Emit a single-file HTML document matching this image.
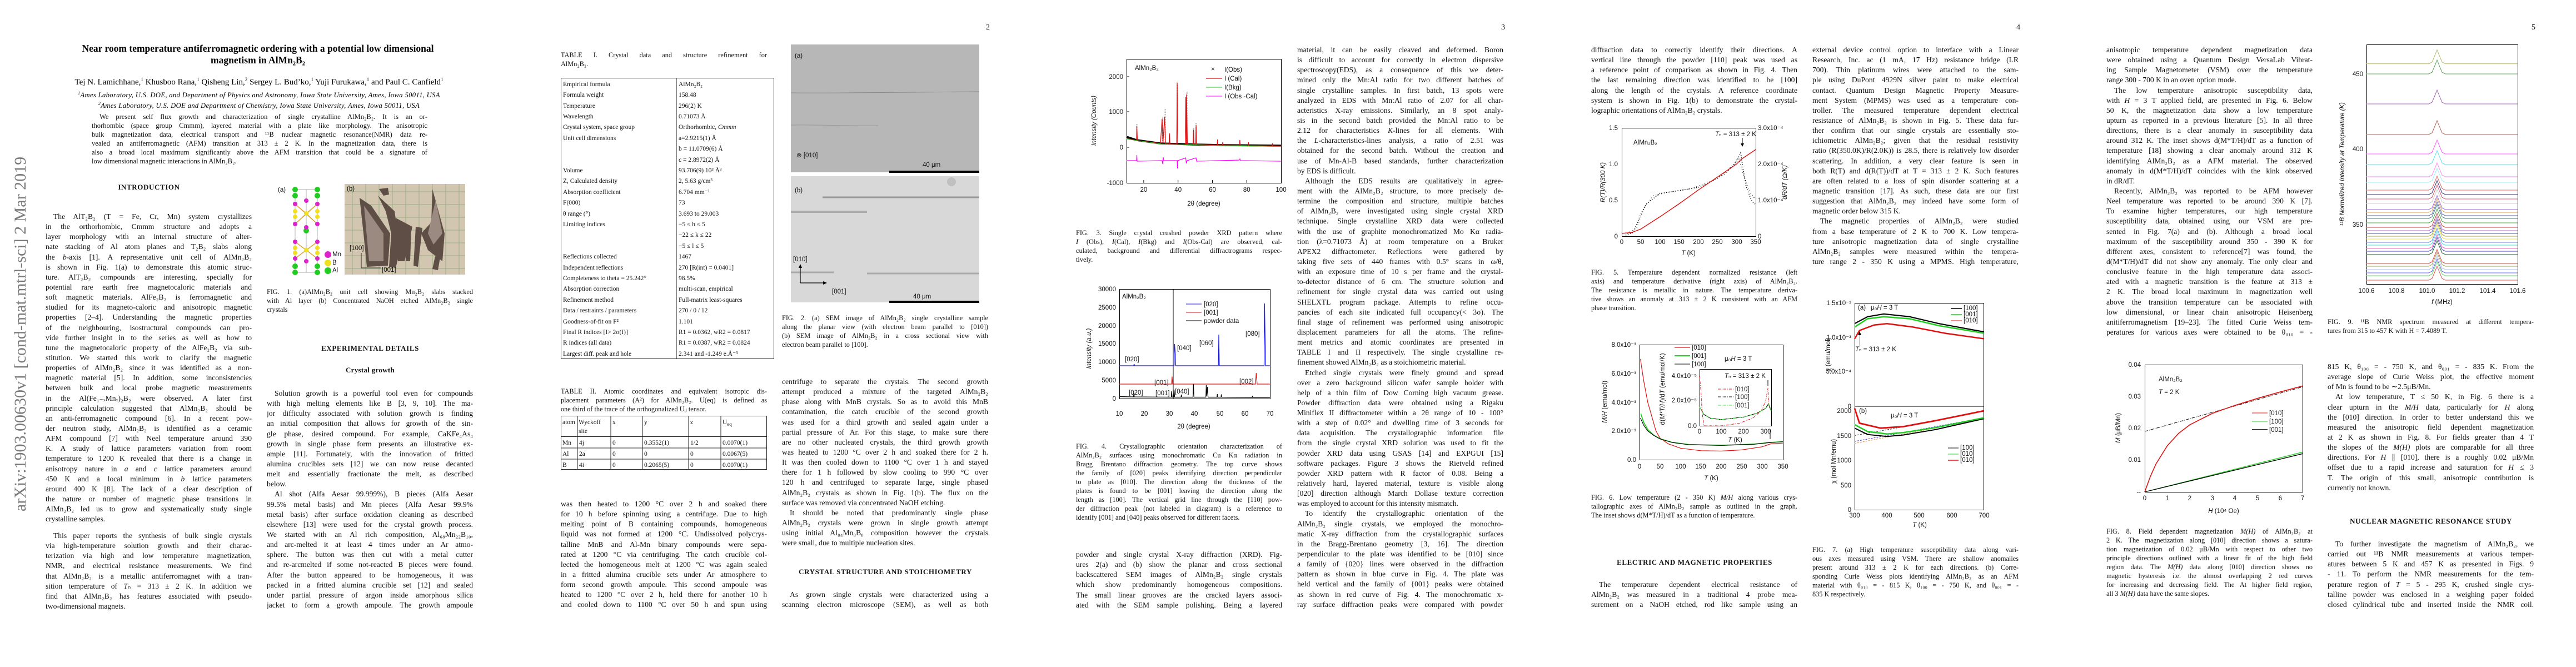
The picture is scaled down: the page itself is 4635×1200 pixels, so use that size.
<!DOCTYPE html>
<html><head><meta charset="utf-8">
<style>
body{margin:0;width:4635px;height:1200px;background:#fff;position:relative;overflow:hidden}
.t{position:absolute;width:371px;font-family:"Liberation Serif",serif;font-size:13.6px;line-height:18.15px;color:#111}
.t div{height:18.15px;overflow:hidden;text-align:justify;text-align-last:justify}
.t div.e{text-align-last:left}
.t div.i{text-indent:14px}
.c{position:absolute;width:371px;font-family:"Liberation Serif",serif;font-size:12.3px;line-height:16px;color:#111}
.c div{height:16px;overflow:hidden;text-align:justify;text-align-last:justify}
.c div.e{text-align-last:left}
.h{position:absolute;font-family:"Liberation Serif",serif;font-weight:bold;font-size:13px;letter-spacing:0.6px;color:#111;transform:translateX(-50%);white-space:nowrap}
.pn{position:absolute;font-family:"Liberation Serif",serif;font-size:14px;top:42px}
svg{position:absolute;left:0;top:0}
svg text{font-family:"Liberation Sans",sans-serif;font-size:11.5px;fill:#111}
svg g.serif text{font-family:"Liberation Serif",serif}
</style></head><body>

<svg width="4635" height="1200" viewBox="0 0 4635 1200">
<!-- FIG 1 -->
<text x="500" y="345" font-size="11">(a)</text>
<g stroke="#bbb" stroke-width="1.2" fill="none">
<rect x="531" y="341" width="40" height="149"/><line x1="551" y1="341" x2="551" y2="490"/>
</g>
<g stroke="#e0a020" stroke-width="1.2">
<line x1="531" y1="367" x2="551" y2="384"/><line x1="571" y1="367" x2="551" y2="384"/><line x1="531" y1="403" x2="551" y2="384"/><line x1="571" y1="403" x2="551" y2="384"/><line x1="531" y1="367" x2="571" y2="403"/><line x1="571" y1="367" x2="531" y2="403"/>
<line x1="531" y1="435" x2="551" y2="450"/><line x1="571" y1="435" x2="551" y2="450"/><line x1="531" y1="465" x2="551" y2="450"/><line x1="571" y1="465" x2="551" y2="450"/><line x1="531" y1="435" x2="571" y2="465"/><line x1="571" y1="435" x2="531" y2="465"/>
</g>
<g fill="#22cc22"><circle cx="531" cy="341" r="5"/><circle cx="571" cy="341" r="5"/><circle cx="531" cy="352" r="5"/><circle cx="571" cy="352" r="5"/><circle cx="551" cy="415" r="5"/><circle cx="531" cy="479" r="5"/><circle cx="571" cy="479" r="5"/><circle cx="531" cy="490" r="5"/><circle cx="571" cy="490" r="5"/><circle cx="590" cy="487" r="6"/></g>
<g fill="#f0e020"><circle cx="531" cy="380" r="4"/><circle cx="571" cy="380" r="4"/><circle cx="531" cy="390" r="4"/><circle cx="571" cy="390" r="4"/><circle cx="551" cy="384" r="4"/><circle cx="531" cy="446" r="4"/><circle cx="571" cy="446" r="4"/><circle cx="531" cy="455" r="4"/><circle cx="571" cy="455" r="4"/><circle cx="551" cy="450" r="4"/><circle cx="590" cy="473" r="6"/></g>
<g fill="#dd22cc"><circle cx="551" cy="361" r="4"/><circle cx="531" cy="367" r="4"/><circle cx="571" cy="367" r="4"/><circle cx="531" cy="403" r="4"/><circle cx="571" cy="403" r="4"/><circle cx="551" cy="409" r="4"/><circle cx="531" cy="435" r="4"/><circle cx="571" cy="435" r="4"/><circle cx="531" cy="465" r="4"/><circle cx="571" cy="465" r="4"/><circle cx="551" cy="470" r="4"/><circle cx="590" cy="458" r="6"/></g>
<text x="598" y="461" font-size="6" fill="#c2c">Mn</text><text x="598" y="476" font-size="6" fill="#c2c">B</text><text x="598" y="490" font-size="6" fill="#c2c">Al</text>
<rect x="620" y="331" width="217" height="163" fill="#d2c6b0"/>
<g stroke="#8aa878" stroke-width="1" opacity="0.8">
<line x1="620" y1="345" x2="837" y2="345"/><line x1="620" y1="368" x2="837" y2="368"/><line x1="620" y1="391" x2="837" y2="391"/><line x1="620" y1="414" x2="837" y2="414"/><line x1="620" y1="437" x2="837" y2="437"/><line x1="620" y1="460" x2="837" y2="460"/><line x1="620" y1="483" x2="837" y2="483"/>
<line x1="634" y1="331" x2="634" y2="494"/><line x1="658" y1="331" x2="658" y2="494"/><line x1="682" y1="331" x2="682" y2="494"/><line x1="706" y1="331" x2="706" y2="494"/><line x1="730" y1="331" x2="730" y2="494"/><line x1="754" y1="331" x2="754" y2="494"/><line x1="778" y1="331" x2="778" y2="494"/><line x1="802" y1="331" x2="802" y2="494"/><line x1="826" y1="331" x2="826" y2="494"/>
</g>
<g fill="#5e4e46">
<polygon points="647,356 668,370 702,420 698,478 660,480 654,420"/>
<polygon points="682,340 698,338 700,350 690,352"/>
<polygon points="680,352 710,380 720,450 712,482 700,480 704,420 694,380"/>
<polygon points="712,392 742,408 728,470 716,470"/>
<polygon points="730,410 740,410 738,470 730,470"/>
<polygon points="748,408 760,410 752,480 744,478"/>
<polygon points="778,340 800,420 796,470 770,450 758,420 776,400"/>
<polygon points="783,461 792,463 788,486 778,484"/>
</g>
<g fill="#9a8a80"><polygon points="655,370 690,420 690,470 664,470"/><polygon points="784,360 796,420 780,440 770,420"/></g>
<text x="624" y="343" font-size="10">(b)</text>
<text x="629" y="450" font-size="9">[100]</text><text x="687" y="489" font-size="9">[001]</text>
<path d="M650,455 V482 H685" stroke="#222" fill="none" stroke-width="1"/>

<!-- FIG 2 -->
<rect x="1423" y="80" width="339" height="230" fill="#b7b7b7"/>
<path d="M1423,167 C1500,168 1600,166 1762,165" stroke="#888" stroke-width="1" fill="none"/>
<path d="M1423,225 C1470,224 1530,227 1580,226" stroke="#999" stroke-width="1" fill="none"/>
<rect x="1600" y="307" width="162" height="4" fill="#000"/>
<text x="1430" y="104" font-size="18">(a)</text>
<text x="1433" y="283" font-size="15">⊗ [010]</text>
<text x="1660" y="300" font-size="17">40 μm</text>
<rect x="1423" y="317" width="339" height="227" fill="#d8d8d8"/>
<path d="M1480,355 H1762" stroke="#999" stroke-width="3" fill="none"/>
<path d="M1423,381 H1560" stroke="#aaa" stroke-width="4" fill="none"/>
<path d="M1423,490 H1500 M1560,492 H1762" stroke="#aaa" stroke-width="3" fill="none"/>
<circle cx="1712" cy="327" r="8" fill="#c0c0c0"/>
<rect x="1600" y="541" width="162" height="4" fill="#000"/>
<text x="1430" y="346" font-size="18">(b)</text>
<text x="1427" y="470" font-size="15">[010]</text>
<path d="M1440,509 V480 M1440,509 H1483" stroke="#000" stroke-width="1.2" fill="none"/>
<path d="M1437,482 L1440,475 L1443,482 Z M1481,506 L1488,509 L1481,512 Z" fill="#000"/>
<text x="1497" y="528" font-size="15">[001]</text>
<text x="1643" y="537" font-size="17">40 μm</text>

<!-- TABLE I -->
<rect x="1009.5" y="140.5" width="383" height="505" fill="none" stroke="#222" stroke-width="1"/>
<line x1="1217" y1="140" x2="1217" y2="646" stroke="#222"/>
<g class="serif" style="font-size:13.3px">
<text x="1013" y="155" font-size="13.3">Empirical formula</text><text x="1221" y="155" font-size="13.3">AlMn₂B₂</text>
<text x="1013" y="174" font-size="13.3">Formula weight</text><text x="1221" y="174" font-size="13.3">158.48</text>
<text x="1013" y="194" font-size="13.3">Temperature</text><text x="1221" y="194" font-size="13.3">296(2) K</text>
<text x="1013" y="213" font-size="13.3">Wavelength</text><text x="1221" y="213" font-size="13.3">0.71073 Å</text>
<text x="1013" y="232" font-size="13.3">Crystal system, space group</text><text x="1221" y="232" font-size="13.3">Orthorhombic, <tspan font-style="italic">Cmmm</tspan></text>
<text x="1013" y="252" font-size="13.3">Unit cell dimensions</text><text x="1221" y="252" font-size="13.3">a=2.9215(1) Å</text>
<text x="1221" y="271" font-size="13.3">b = 11.0709(6) Å</text>
<text x="1221" y="291" font-size="13.3">c = 2.8972(2) Å</text>
<text x="1013" y="310" font-size="13.3">Volume</text><text x="1221" y="310" font-size="13.3">93.706(9) 10³ Å³</text>
<text x="1013" y="329" font-size="13.3">Z, Calculated density</text><text x="1221" y="329" font-size="13.3">2, 5.63 g/cm³</text>
<text x="1013" y="349" font-size="13.3">Absorption coefficient</text><text x="1221" y="349" font-size="13.3">6.704 mm⁻¹</text>
<text x="1013" y="368" font-size="13.3">F(000)</text><text x="1221" y="368" font-size="13.3">73</text>
<text x="1013" y="388" font-size="13.3">θ range (°)</text><text x="1221" y="388" font-size="13.3">3.693 to 29.003</text>
<text x="1013" y="407" font-size="13.3">Limiting indices</text><text x="1221" y="407" font-size="13.3">−5 ≤ h ≤ 5</text>
<text x="1221" y="426" font-size="13.3">−22 ≤ k ≤ 22</text>
<text x="1221" y="446" font-size="13.3">−5 ≤ l ≤ 5</text>
<text x="1013" y="465" font-size="13.3">Reflections collected</text><text x="1221" y="465" font-size="13.3">1467</text>
<text x="1013" y="485" font-size="13.3">Independent reflections</text><text x="1221" y="485" font-size="13.3">270 [R(int) = 0.0401]</text>
<text x="1013" y="504" font-size="13.3">Completeness to theta = 25.242°</text><text x="1221" y="504" font-size="13.3">98.5%</text>
<text x="1013" y="523" font-size="13.3">Absorption correction</text><text x="1221" y="523" font-size="13.3">multi-scan, empirical</text>
<text x="1013" y="543" font-size="13.3">Refinement method</text><text x="1221" y="543" font-size="13.3">Full-matrix least-squares</text>
<text x="1013" y="562" font-size="13.3">Data / restraints / parameters</text><text x="1221" y="562" font-size="13.3">270 / 0 / 12</text>
<text x="1013" y="582" font-size="13.3">Goodness-of-fit on F²</text><text x="1221" y="582" font-size="13.3">1.101</text>
<text x="1013" y="601" font-size="13.3">Final R indices [I&gt; 2σ(I)]</text><text x="1221" y="601" font-size="13.3">R1 = 0.0362, wR2 = 0.0817</text>
<text x="1013" y="620" font-size="13.3">R indices (all data)</text><text x="1221" y="620" font-size="13.3">R1 = 0.0387, wR2 = 0.0824</text>
<text x="1013" y="640" font-size="13.3">Largest diff. peak and hole</text><text x="1221" y="640" font-size="13.3">2.341 and -1.249 e.Å⁻³</text>
</g>

<!-- TABLE II -->
<rect x="1009.5" y="748.5" width="370" height="96" fill="none" stroke="#222"/>
<g stroke="#222"><line x1="1039" y1="748" x2="1039" y2="845"/><line x1="1099" y1="748" x2="1099" y2="845"/><line x1="1156" y1="748" x2="1156" y2="845"/><line x1="1239" y1="748" x2="1239" y2="845"/><line x1="1297" y1="748" x2="1297" y2="845"/>
<line x1="1009" y1="785.5" x2="1380" y2="785.5"/><line x1="1009" y1="806" x2="1380" y2="806"/><line x1="1009" y1="826" x2="1380" y2="826"/></g>
<g class="serif">
<text x="1012" y="763" font-size="13">atom</text><text x="1041" y="763" font-size="13">Wyckoff</text><text x="1041" y="779" font-size="13">site</text><text x="1102" y="763" font-size="13">x</text><text x="1159" y="763" font-size="13">y</text><text x="1242" y="763" font-size="13">z</text><text x="1300" y="763" font-size="13">U<tspan font-size="9" dy="3">eq</tspan></text>
<text x="1012" y="800" font-size="13">Mn</text><text x="1042" y="800" font-size="13">4j</text><text x="1102" y="800" font-size="13">0</text><text x="1159" y="800" font-size="13">0.3552(1)</text><text x="1242" y="800" font-size="13">1/2</text><text x="1300" y="800" font-size="13">0.0070(1)</text>
<text x="1012" y="820" font-size="13">Al</text><text x="1042" y="820" font-size="13">2a</text><text x="1102" y="820" font-size="13">0</text><text x="1159" y="820" font-size="13">0</text><text x="1242" y="820" font-size="13">0</text><text x="1300" y="820" font-size="13">0.0067(5)</text>
<text x="1012" y="840" font-size="13">B</text><text x="1042" y="840" font-size="13">4i</text><text x="1102" y="840" font-size="13">0</text><text x="1159" y="840" font-size="13">0.2065(5)</text><text x="1242" y="840" font-size="13">0</text><text x="1300" y="840" font-size="13">0.0070(1)</text>
</g>

<!-- FIG 3 -->
<rect x="2027.5" y="106.5" width="278" height="223" fill="none" stroke="#000"/>
<g stroke="#000"><line x1="2027" y1="138" x2="2032" y2="138"/><line x1="2027" y1="201" x2="2032" y2="201"/><line x1="2027" y1="265" x2="2032" y2="265"/><line x1="2057.9" y1="329" x2="2057.9" y2="324"/><line x1="2119.7" y1="329" x2="2119.7" y2="324"/><line x1="2181.5" y1="329" x2="2181.5" y2="324"/><line x1="2243.3" y1="329" x2="2243.3" y2="324"/></g>
<g text-anchor="end"><text x="2021" y="142">2000</text><text x="2021" y="205">1000</text><text x="2021" y="269">0</text><text x="2021" y="333">-1000</text></g>
<g text-anchor="middle"><text x="2057.9" y="345">20</text><text x="2119.7" y="345">40</text><text x="2181.5" y="345">60</text><text x="2243.3" y="345">80</text><text x="2305" y="345">100</text>
<text x="2166" y="370" font-size="13">2θ (degree)</text>
<text transform="translate(1972,217) rotate(-90)" font-size="13" font-style="italic">Intensity (Counts)</text></g>
<path d="M2027,246 L2045,252 L2088,258 L2150,260 L2200,261 L2305,262" stroke="#000" stroke-width="3.5" fill="none"/>
<path d="M2045.5,223 V250 M2096.5,196 V255 M2118.1,147 V256 M2135.7,165 V258 M2091.9,210 V255 M2152.1,222 V259 M2147.5,230 V259" stroke="#999" stroke-width="2" stroke-dasharray="1.5,1.5"/>
<path d="M2027,249 L2045,253 L2045.5,227 L2046.5,253 L2088,258 L2091,214 L2092.5,258 L2095.5,210 L2097,258 L2103.5,258 L2104.2,240 L2105,259 L2117.3,259 L2118.1,150 L2119,260 L2132.8,260 L2133.6,175 L2134.6,260 L2135,170 L2136.4,260 L2146.8,260 L2147.5,233 L2148.2,260 L2151.5,260 L2152.1,226 L2152.8,260 L2190,261 L2190.7,251 L2191.4,261 L2199.5,261 L2200,256 L2200.5,261 L2230.3,261.5 L2230.9,252 L2231.5,261.5 L2245.8,262 L2246.3,256 L2246.8,262 L2289,262.5 L2289.6,258 L2290.2,262.5 L2305,263" stroke="#e01010" stroke-width="1.3" fill="none"/>
<path d="M2027,250 L2088,259 L2200,262 L2305,263.5" stroke="#20c020" stroke-width="1" fill="none"/>
<path d="M2027,289 L2045,289 L2045.5,279 L2046,290 L2091,289 L2092,295 L2093,283 L2094,289 L2118,289 L2118.5,303 L2119,289 L2133.5,284 L2134.5,294 L2136,289 L2152,284 L2153,290 L2230,288 L2231,286 L2232,289 L2305,290" stroke="#ff00ff" stroke-width="1.2" fill="none"/>
<text x="2042" y="126" font-size="11">AlMn₂B₂</text>
<text x="2179" y="128" fill="#999" font-size="9">×</text>
<line x1="2170" y1="141" x2="2199" y2="141" stroke="#e01010" stroke-width="1.3"/>
<line x1="2170" y1="157" x2="2199" y2="157" stroke="#20c020"/>
<line x1="2170" y1="173" x2="2199" y2="173" stroke="#ff00ff"/>
<g font-size="11"><text x="2203" y="129">I(Obs)</text><text x="2203" y="145">I (Cal)</text><text x="2203" y="161">I(Bkg)</text><text x="2203" y="177">I (Obs -Cal)</text></g>

<!-- FIG 4 -->
<rect x="2014.5" y="520.5" width="271" height="197" fill="none" stroke="#000"/>
<line x1="2111" y1="520" x2="2111" y2="717" stroke="#000"/>
<g text-anchor="end"><text x="2008" y="524">30000</text><text x="2008" y="557">25000</text><text x="2008" y="590">20000</text><text x="2008" y="622">15000</text><text x="2008" y="655">10000</text><text x="2008" y="688">5000</text><text x="2008" y="721">0</text></g>
<g text-anchor="middle"><text x="2014" y="748">10</text><text x="2059" y="748">20</text><text x="2104" y="748">30</text><text x="2149" y="748">40</text><text x="2195" y="748">50</text><text x="2240" y="748">60</text><text x="2285" y="748">70</text>
<text x="2148" y="771" font-size="13">2θ (degree)</text>
<text transform="translate(1963,627) rotate(-90)" font-size="13" font-style="italic">Intensity (a.u.)</text></g>
<path d="M2014,658 L2040,658 L2040.5,655 L2041.5,658 L2112.5,658 L2113.3,619 L2114.3,630 L2115.5,658 L2192.2,658 L2193,602 L2194,658 L2274.5,658 L2275.3,546 L2276.2,600 L2277,658 L2285,658" stroke="#1010e0" stroke-width="1.2" fill="none"/>
<path d="M2014,691 L2108,691 L2108.9,677.6 L2110,691 L2259,691 L2260.3,671 L2262,691 L2285,691" stroke="#e01010" stroke-width="1.2" fill="none"/>
<path d="M2014,713.5 L2039.5,714 L2040.2,707 L2041,714 L2107.5,714.5 L2108,704 L2109,714.5 L2112,714.5 L2112.5,701 L2113.5,714.5 L2125,714.5 L2125.6,710 L2126.3,714.5 L2146.5,714.5 L2147.3,691 L2148.2,714.5 L2169.8,714.5 L2170.4,693 L2171.4,712 L2172.5,696 L2173.6,714.5 L2189.8,714.5 L2190.3,709 L2190.8,714.5 L2197,714.5 L2197.5,709.5 L2198,714.5 L2253,715 L2253.6,712 L2254.2,715 L2285,715" stroke="#000" stroke-width="1.2" fill="none"/>
<text x="2019" y="537" font-size="11">AlMn₂B₂</text>
<line x1="2134" y1="547" x2="2162" y2="547" stroke="#1010e0"/><line x1="2134" y1="562" x2="2162" y2="562" stroke="#e01010"/><line x1="2134" y1="577" x2="2162" y2="577" stroke="#000"/>
<g font-size="10.5"><text x="2166" y="551">[020]</text><text x="2166" y="566">[001]</text><text x="2166" y="581">powder data</text>
<text x="2024" y="650">[020]</text><text x="2118" y="630">[040]</text><text x="2158" y="621">[060]</text><text x="2241" y="604">[080]</text><text x="2077" y="692">[001]</text><text x="2230" y="690">[002]</text><text x="2031" y="710">[020]</text><text x="2079" y="711">[001]</text><text x="2114" y="708">[040]</text></g>

<!-- FIG 5 -->
<rect x="2918.5" y="230.5" width="241" height="195" fill="none" stroke="#000"/>
<g text-anchor="end"><text x="2911" y="234">1.5</text><text x="2911" y="299">1.0</text><text x="2911" y="364">0.5</text><text x="2911" y="429">0</text></g>
<g><text x="3163" y="234">3.0x10⁻⁴</text><text x="3163" y="299">2.0x10⁻⁴</text><text x="3163" y="364">1.0x10⁻⁴</text><text x="3163" y="429">0</text></g>
<g text-anchor="middle"><text x="2918" y="439">0</text><text x="2952" y="439">50</text><text x="2987" y="439">100</text><text x="3021" y="439">150</text><text x="3056" y="439">200</text><text x="3090" y="439">250</text><text x="3125" y="439">300</text><text x="3159" y="439">350</text>
<text x="3038" y="459" font-size="13"><tspan font-style="italic">T</tspan> (K)</text>
<text transform="translate(2888,328) rotate(-90)" font-size="12.5" font-style="italic">R(T)/R(300 K)</text>
<text transform="translate(3215,328) rotate(-90)" font-size="12.5" font-style="italic">dR/dT (Ω/K)</text></g>
<path d="M2925,423 L2939,418 L2952,386 L2962,367 L2987,348 L3021,343 L3056,337 L3090,321 L3110,305 L3125,290 L3132,275 L3136,302 L3142,336 L3152,362 L3159,368" stroke="#000" stroke-width="1.6" stroke-dasharray="1.2,3" fill="none"/>
<path d="M2928,420 L2945,410 L2958,375 L2975,352 L3000,346 L3040,340 L3070,330 L3100,316 L3118,300 L3128,282 L3138,318 L3148,345 L3158,358" stroke="#000" stroke-width="1.4" stroke-dasharray="1,4" fill="none"/>
<path d="M2918,419.8 L2935.2,418.5 L2952.5,412 L2986.9,389.9 L3021.4,366.5 L3055.8,341.8 L3090.3,318.4 L3124.7,295 L3133.7,286 L3159.2,269" stroke="#e01010" stroke-width="1.4" fill="none"/>
<text x="2939" y="260" font-size="10.5">AlMn₂B₂</text>
<text x="3086" y="245" font-size="10.5"><tspan font-style="italic">T</tspan>ₙ = 313 ± 2 K</text>
<path d="M3135,248 V262" stroke="#000"/><path d="M3132,258 L3135,264 L3138,258Z" fill="#000"/>

<!-- FIG 6 -->
<rect x="2950.5" y="620.5" width="258" height="207" fill="none" stroke="#000"/>
<g text-anchor="end"><text x="2944" y="624">8.0x10⁻³</text><text x="2944" y="676">6.0x10⁻³</text><text x="2944" y="728">4.0x10⁻³</text><text x="2944" y="779">2.0x10⁻³</text><text x="2944" y="831">0.0</text></g>
<g text-anchor="middle"><text x="2950" y="843">0</text><text x="2987" y="843">50</text><text x="3024" y="843">100</text><text x="3060" y="843">150</text><text x="3097" y="843">200</text><text x="3134" y="843">250</text><text x="3171" y="843">300</text><text x="3208" y="843">350</text>
<text x="3079" y="864" font-size="13"><tspan font-style="italic">T</tspan> (K)</text>
<text transform="translate(2891,723) rotate(-90)" font-size="12.5"><tspan font-style="italic">M/H</tspan> (emu/mol)</text>
<text transform="translate(2995,700) rotate(-90)" font-size="10">d(<tspan font-style="italic">M*T/H</tspan>)/d<tspan font-style="italic">T</tspan> (emu/mol/K)</text></g>
<path d="M2951.5,645.7 L2957.4,684.5 L2964.7,723.4 L2972.1,749.3 L2979.5,775.2 L2986.9,788.2 L3001.6,798.5 L3023.7,806.3 L3060.6,810.9 L3097.4,811.5 L3134.3,809.4 L3171.1,803.7 L3185.8,798.5 L3208,797.2" stroke="#e01010" stroke-width="1.2" fill="none"/>
<path d="M2952.2,744.1 L2957.4,759.7 L2964.7,772.6 L2975.8,783 L2986.9,789.4 L3009,795.9 L3038.4,799.8 L3097.4,801.1 L3156.4,799 L3185.8,795.9 L3208,794.6" stroke="#20d020" stroke-width="1.8" fill="none"/>
<path d="M2951.5,751.9 L2957.4,764.8 L2964.7,775.2 L2975.8,783.5 L2986.9,789.6 L3009,796.1 L3038.4,800 L3097.4,801.3 L3156.4,799.2 L3185.8,796.1 L3208,794.8" stroke="#000" stroke-width="1.1" fill="none"/>
<line x1="3013" y1="625" x2="3041" y2="625" stroke="#e01010" stroke-width="1.3"/><line x1="3013" y1="640" x2="3041" y2="640" stroke="#20d020" stroke-width="2"/><line x1="3013" y1="655" x2="3041" y2="655" stroke="#000"/>
<g font-size="11"><text x="3044" y="629">[010]</text><text x="3044" y="644">[001]</text><text x="3044" y="659">[100]</text><text x="3103" y="649">μ₀<tspan font-style="italic">H</tspan> = 3 T</text></g>
<rect x="3058.5" y="664.5" width="129" height="102" fill="#fff" stroke="#000"/>
<g text-anchor="end"><text x="3053" y="680">4.0x10⁻⁵</text><text x="3053" y="724">2.0x10⁻⁵</text><text x="3053" y="770">0.0</text></g>
<g text-anchor="middle"><text x="3058" y="780">0</text><text x="3097" y="780">100</text><text x="3137" y="780">200</text><text x="3177" y="780">300</text><text x="3122" y="795" font-size="10"><tspan font-style="italic">T</tspan> (K)</text></g>
<text x="3103" y="680" font-size="11"><tspan font-style="italic">T</tspan>ₙ = 313 ± 2 K</text>
<path d="M3058,676 L3060,698.5 L3062.8,743.5 L3066,766 L3097.7,766 L3129.5,761.5 L3153.3,752.5 L3169.2,739 L3177.1,721 L3181,698.5 L3183,732 L3187,739" stroke="#e01010" stroke-width="1" stroke-dasharray="5,2,1,2" fill="none"/>
<path d="M3058,732 L3066,745.8 L3077.9,752.5 L3097.7,754.8 L3137.4,750.3 L3161.2,743.5 L3177.1,734.5 L3181.9,726.6 L3187,739" stroke="#000" stroke-width="1.2" fill="none"/>
<path d="M3058,732 L3066,745.8 L3077.9,752.5 L3097.7,754.8 L3137.4,750.3 L3161.2,743.5 L3177.1,734.5 L3181.9,726.6 L3187,739" stroke="#30e030" stroke-width="1.2" stroke-dasharray="5,2,1,2" fill="none"/>
<line x1="3091" y1="700" x2="3120" y2="700" stroke="#e01010" stroke-dasharray="5,2,1,2"/><line x1="3091" y1="714" x2="3120" y2="714" stroke="#000" stroke-dasharray="5,2,1,2"/><line x1="3091" y1="729" x2="3120" y2="729" stroke="#30e030" stroke-dasharray="5,2,1,2"/>
<g font-size="11"><text x="3122" y="704">[010]</text><text x="3122" y="718">[100]</text><text x="3122" y="733">[001]</text></g>
<path d="M3181,684 V694 M3185,772 V790" stroke="#000"/>

<!-- FIG 7 -->
<rect x="3337.5" y="545.5" width="232" height="372" fill="none" stroke="#000"/>
<line x1="3337" y1="731" x2="3570" y2="731" stroke="#000"/>
<g text-anchor="end" font-size="10"><text x="3331" y="549">1.5x10⁻³</text><text x="3331" y="611">1.0x10⁻³</text><text x="3331" y="672">5.0x10⁻⁴</text><text x="3331" y="735">0</text>
<text x="3331" y="743">2000</text><text x="3331" y="788">1500</text><text x="3331" y="832">1000</text><text x="3331" y="877">500</text><text x="3331" y="921">0</text></g>
<g text-anchor="middle" font-size="10"><text x="3337" y="931">300</text><text x="3395" y="931">400</text><text x="3453" y="931">500</text><text x="3512" y="931">600</text><text x="3570" y="931">700</text>
<text x="3454" y="948" font-size="12"><tspan font-style="italic">T</tspan> (K)</text>
<text transform="translate(3293,638) rotate(-90)" font-size="11">χ (emu/mol)</text>
<text transform="translate(3303,830) rotate(-90)" font-size="11">χ (mol Mn/emu)</text></g>
<path d="M3337,582.2 L3360.3,569.8 L3389.5,564.8 L3436.1,569.8 L3488.6,582.2 L3570,597.1" stroke="#000" stroke-width="2.2" fill="none"/>
<path d="M3337,588.4 L3360.3,573.5 L3389.5,569.8 L3436.1,573.5 L3488.6,585.9 L3570,599.6" stroke="#20d020" stroke-width="2.5" fill="none"/>
<path d="M3337,609.5 L3345.7,594.6 L3372,584.7 L3395.3,582.2 L3442,588.4 L3500.2,599.6 L3570,609.5" stroke="#e01010" stroke-width="2.5" fill="none"/>
<path d="M3337,794.2 L3570,751.5" stroke="#3030e0" stroke-dasharray="3,2" fill="none"/>
<path d="M3337,797.7 L3570,753.2" stroke="#e09040" stroke-dasharray="3,2" fill="none"/>
<path d="M3337,783.5 L3430,767" stroke="#333" stroke-dasharray="3,2" fill="none"/>
<path d="M3337,770.2 L3360.3,781.7 L3395.3,785.3 L3424.5,782.6 L3482.8,772.8 L3570,753.2" stroke="#000" stroke-width="2" fill="none"/>
<path d="M3337,763.9 L3360.3,776.4 L3395.3,780.8 L3424.5,778.2 L3482.8,769.3 L3570,751.5" stroke="#20d020" stroke-width="2.5" fill="none"/>
<path d="M3337,734.5 L3345.7,761.3 L3383.6,770.2 L3424.5,767.5 L3482.8,756.8 L3570,739" stroke="#e01010" stroke-width="2.8" fill="none"/>
<g font-size="9"><text x="3343" y="557">(a)</text><text x="3366" y="557">μ₀<tspan font-style="italic">H</tspan> = 3 T</text>
<text x="3533" y="558">[100]</text><text x="3533" y="569">[001]</text><text x="3533" y="580">[010]</text>
<text x="3338" y="632"><tspan font-style="italic">T</tspan>ₙ = 313 ± 2 K</text>
<text x="3345" y="743">(b)</text><text x="3402" y="751">μ₀<tspan font-style="italic">H</tspan> = 3 T</text>
<text x="3527" y="809">[100]</text><text x="3527" y="820">[010]</text><text x="3527" y="831">[010]</text></g>
<line x1="3510" y1="555" x2="3530" y2="555" stroke="#000" stroke-width="1.5"/><line x1="3510" y1="566" x2="3530" y2="566" stroke="#20d020" stroke-width="1.5"/><line x1="3510" y1="577" x2="3530" y2="577" stroke="#e01010"/>
<line x1="3505" y1="806" x2="3524" y2="806" stroke="#000"/><line x1="3505" y1="817" x2="3524" y2="817" stroke="#20d020"/><line x1="3505" y1="828" x2="3524" y2="828" stroke="#e01010" stroke-width="1.5"/>
<path d="M3346,622 V600" stroke="#999"/><path d="M3343,603 L3346,596 L3349,603Z" fill="#000"/>

<!-- FIG 8 -->
<rect x="3859.5" y="656.5" width="284" height="229" fill="none" stroke="#000"/>
<g text-anchor="end"><text x="3852" y="660">0.04</text><text x="3852" y="717">0.03</text><text x="3852" y="774">0.02</text><text x="3852" y="831">0.01</text><text x="3852" y="889">--</text></g>
<g text-anchor="middle"><text x="3859" y="900">0</text><text x="3900" y="900">1</text><text x="3940" y="900">2</text><text x="3981" y="900">3</text><text x="4021" y="900">4</text><text x="4062" y="900">5</text><text x="4103" y="900">6</text><text x="4143" y="900">7</text>
<text x="4001" y="923" font-size="13"><tspan font-style="italic">H</tspan> (10⁴ Oe)</text>
<text transform="translate(3815,770) rotate(-90)" font-size="12.5"><tspan font-style="italic">M</tspan> (μB/Mn)</text></g>
<path d="M3859,776.2 L4143,696" stroke="#000" stroke-dasharray="6,2,1,2" fill="none"/>
<path d="M3859,885 L3869.2,857 L3879.3,834.6 L3899.6,802 L3919.9,779.7 L3940.2,764.2 L3980.8,743.6 L4021.4,729.3 L4062,716.7 L4102.6,705.2 L4143,694.4" stroke="#e01010" stroke-width="1.6" fill="none"/>
<path d="M3859,885 L4143,813.4" stroke="#20d020" stroke-width="1.4" fill="none"/>
<path d="M3859,885 L4143,816.3" stroke="#000" stroke-width="1.4" fill="none"/>
<g font-size="11"><text x="3884" y="686">AlMn₂B₂</text><text x="3884" y="709"><tspan font-style="italic">T</tspan> = 2 K</text><text x="4083" y="747">[010]</text><text x="4083" y="762">[100]</text><text x="4083" y="777">[001]</text></g>
<line x1="4052" y1="743" x2="4080" y2="743" stroke="#e01010"/><line x1="4052" y1="758" x2="4080" y2="758" stroke="#20d020"/><line x1="4052" y1="773" x2="4080" y2="773" stroke="#000" stroke-width="1.5"/>

<!-- FIG 9 -->
<rect x="4258.5" y="80.5" width="272" height="431" fill="none" stroke="#000"/>
<g text-anchor="end"><text x="4252" y="137">450</text><text x="4252" y="272">400</text><text x="4252" y="408">350</text></g>
<g text-anchor="middle"><text x="4258" y="527">100.6</text><text x="4312" y="527">100.8</text><text x="4367" y="527">101.0</text><text x="4421" y="527">101.2</text><text x="4476" y="527">101.4</text><text x="4530" y="527">101.6</text>
<text x="4394" y="547" font-size="13"><tspan font-style="italic">f</tspan> (MHz)</text>
<text transform="translate(4218,295) rotate(-90)" font-size="12.5" font-style="italic">¹¹B Normalized Intensity at Temperature (K)</text></g>
<g fill="none" stroke-width="1">
<path d="M4258,114.7 H4370 l6,-3 l5,-12 l4,-10 l4,10 l5,12 l6,3 H4530" stroke="#b5b86a"/>
<path d="M4258,133 H4370 l6,-3 l5,-12 l4,-10 l4,10 l5,12 l6,3 H4530" stroke="#5aa05a"/>
<path d="M4258,187 H4370 l6,-3 l5,-12 l4,-10 l4,10 l5,12 l6,3 H4530" stroke="#a060b0"/>
<path d="M4258,242 H4370 l6,-3 l5,-12 l4,-10 l4,10 l5,12 l6,3 H4530" stroke="#b06050"/>
<path d="M4258,277 H4370 l6,-3 l5,-12 l4,-10 l4,10 l5,12 l6,3 H4530" stroke="#ff55ff"/>
<path d="M4258,296 H4370 l6,-3 l5,-12 l4,-10 l4,10 l5,12 l6,3 H4530" stroke="#55e0ee"/>
<path d="M4258,318 H4370 l6,-3 l5,-12 l4,-10 l4,10 l5,12 l6,3 H4530" stroke="#ff88ee"/>
<path d="M4258,328 H4370 l6,-3 l5,-12 l4,-10 l4,10 l5,12 l6,3 H4530" stroke="#99eeff"/>
<path d="M4258,342 H4370 l6,-3 l5,-12 l4,-10 l4,10 l5,12 l6,3 H4530" stroke="#e06060"/>
<path d="M4258,350 H4370 l6,-3 l5,-12 l4,-10 l4,10 l5,12 l6,3 H4530" stroke="#303080"/>
<path d="M4258,358 H4370 l6,-3 l5,-12 l4,-10 l4,10 l5,12 l6,3 H4530" stroke="#e05070"/>
<path d="M4258,366 H4370 l6,-3 l5,-12 l4,-10 l4,10 l5,12 l6,3 H4530" stroke="#cccccc"/>
<path d="M4258,377 H4370 l6,-3 l5,-12 l4,-10 l4,10 l5,12 l6,3 H4530" stroke="#9966dd"/>
<path d="M4258,382 H4370 l6,-3 l5,-12 l4,-10 l4,10 l5,12 l6,3 H4530" stroke="#e0a040"/>
<path d="M4258,388 H4370 l6,-3 l5,-12 l4,-10 l4,10 l5,12 l6,3 H4530" stroke="#6060c0"/>
<path d="M4258,393 H4370 l6,-3 l5,-12 l4,-10 l4,10 l5,12 l6,3 H4530" stroke="#408080"/>
<path d="M4258,401 H4370 l6,-3 l5,-12 l4,-10 l4,10 l5,12 l6,3 H4530" stroke="#40a040"/>
<path d="M4258,409 H4370 l6,-3 l5,-12 l4,-10 l4,10 l5,12 l6,3 H4530" stroke="#c04040"/>
<path d="M4258,415 H4370 l6,-3 l5,-12 l4,-10 l4,10 l5,12 l6,3 H4530" stroke="#b070c0"/>
<path d="M4258,420 H4370 l6,-3 l5,-12 l4,-10 l4,10 l5,12 l6,3 H4530" stroke="#5050c0"/>
<path d="M4258,425 H4370 l6,-3 l5,-12 l4,-10 l4,10 l5,12 l6,3 H4530" stroke="#a0a040"/>
<path d="M4258,430 H4370 l6,-3 l5,-12 l4,-10 l4,10 l5,12 l6,3 H4530" stroke="#f0e040"/>
<path d="M4258,436 H4370 l6,-3 l5,-12 l4,-10 l4,10 l5,12 l6,3 H4530" stroke="#6080f0"/>
<path d="M4258,441 H4370 l6,-3 l5,-12 l4,-10 l4,10 l5,12 l6,3 H4530" stroke="#40e0e0"/>
<path d="M4258,447 H4370 l6,-3 l5,-12 l4,-10 l4,10 l5,12 l6,3 H4530" stroke="#f060c0"/>
<path d="M4258,452 H4370 l6,-3 l5,-12 l4,-10 l4,10 l5,12 l6,3 H4530" stroke="#4040c0"/>
<path d="M4258,458 H4370 l6,-3 l5,-12 l4,-10 l4,10 l5,12 l6,3 H4530" stroke="#206020"/>
<path d="M4258,474 H4370 l6,-3 l5,-12 l4,-10 l4,10 l5,12 l6,3 H4530" stroke="#e04040"/>
<path d="M4258,479 H4370 l6,-3 l5,-12 l4,-10 l4,10 l5,12 l6,3 H4530" stroke="#a0a050"/>
<path d="M4258,485 H4370 l6,-3 l5,-12 l4,-10 l4,10 l5,12 l6,3 H4530" stroke="#a0c0f0"/>
<path d="M4258,491 H4370 l6,-3 l5,-12 l4,-10 l4,10 l5,12 l6,3 H4530" stroke="#6060f0"/>
<path d="M4258,496 H4370 l6,-3 l5,-12 l4,-10 l4,10 l5,12 l6,3 H4530" stroke="#60e060"/>
<path d="M4258,504 H4370 l6,-3 l5,-12 l4,-10 l4,10 l5,12 l6,3 H4530" stroke="#e05050"/>
</g>
</svg>

<!-- arXiv sidebar -->
<div style="position:absolute;left:-303px;top:583px;width:680px;text-align:center;transform:rotate(-90deg);font-family:'Liberation Serif',serif;font-size:30px;color:#7a7a7a;white-space:nowrap;line-height:36px">arXiv:1903.00630v1  [cond-mat.mtrl-sci]  2 Mar 2019</div>

<!-- PAGE 1 header -->
<div style="position:absolute;left:0;width:928px;top:77px;text-align:center;font-family:'Liberation Serif',serif;font-weight:bold;font-size:17.5px;line-height:21px">Near room temperature antiferromagnetic ordering with a potential low dimensional<br>magnetism in AlMn₂B₂</div>
<div style="position:absolute;left:0;width:932px;top:138px;text-align:center;font-family:'Liberation Serif',serif;font-size:15px">Tej N. Lamichhane,<sup style="font-size:9px">1</sup> Khusboo Rana,<sup style="font-size:9px">1</sup> Qisheng Lin,<sup style="font-size:9px">2</sup> Sergey L. Bud’ko,<sup style="font-size:9px">1</sup> Yuji Furukawa,<sup style="font-size:9px">1</sup> and Paul C. Canfield<sup style="font-size:9px">1</sup></div>
<div style="position:absolute;left:0;width:932px;top:160px;text-align:center;font-family:'Liberation Serif',serif;font-style:italic;font-size:12.6px;line-height:16px;letter-spacing:0.35px"><sup style="font-size:8px">1</sup>Ames Laboratory, U.S. DOE, and Department of Physics and Astronomy, Iowa State University, Ames, Iowa 50011, USA<br><sup style="font-size:8px">2</sup>Ames Laboratory, U.S. DOE and Department of Chemistry, Iowa State University, Ames, Iowa 50011, USA</div>
<div class="c" style="left:165px;top:202px;width:604px;font-size:12.6px;line-height:16.2px">
<div style="text-indent:14px">We present self flux growth and characterization of single crystalline AlMn₂B₂. It is an or-</div>
<div>thorhombic (space group Cmmm), layered material with a plate like morphology. The anisotropic</div>
<div>bulk magnetization data, electrical transport and ¹¹B nuclear magnetic resonance(NMR) data re-</div>
<div>vealed an antiferromagnetic (AFM) transition at 313 ± 2 K. In the magnetization data, there is</div>
<div>also a broad local maximum significantly above the AFM transition that could be a signature of</div>
<div class="e">low dimensional magnetic interactions in AlMn₂B₂.</div>
</div>
<div class="h" style="left:268px;top:329px">INTRODUCTION</div>
<div class="t" style="left:82px;top:381px">
<div class="i">The AlT₂B₂ (T = Fe, Cr, Mn) system crystallizes</div>
<div>in the orthorhombic, Cmmm structure and adopts a</div>
<div>layer morphology with an internal structure of alter-</div>
<div>nate stacking of Al atom planes and T₂B₂ slabs along</div>
<div>the <i>b</i>-axis [1]. A representative unit cell of AlMn₂B₂</div>
<div>is shown in Fig. 1(a) to demonstrate this atomic struc-</div>
<div>ture. AlT₂B₂ compounds are interesting, specially for</div>
<div>potential rare earth free magnetocaloric materials and</div>
<div>soft magnetic materials. AlFe₂B₂ is ferromagnetic and</div>
<div>studied for its magneto-caloric and anisotropic magnetic</div>
<div>properties [2–4]. Understanding the magnetic properties</div>
<div>of the neighbouring, isostructural compounds can pro-</div>
<div>vide further insight in to the series as well as how to</div>
<div>tune the magnetocaloric property of the AlFe₂B₂ via sub-</div>
<div>stitution. We started this work to clarify the magnetic</div>
<div>properties of AlMn₂B₂ since it was identified as a non-</div>
<div>magnetic material [5]. In addition, some inconsistencies</div>
<div>between bulk and local probe magnetic measurements</div>
<div>in the Al(Fe₁₋ₓMnₓ)₂B₂ were observed. A later first</div>
<div>principle calculation suggested that AlMn₂B₂ should be</div>
<div>an anti-ferromagnetic compound [6]. In a recent pow-</div>
<div>der neutron study, AlMn₂B₂ is identified as a ceramic</div>
<div>AFM compound [7] with Neel temperature around 390</div>
<div>K. A study of lattice parameters variation from room</div>
<div>temperature to 1200 K revealed that there is a change in</div>
<div>anisotropy nature in <i>a</i> and <i>c</i> lattice parameters around</div>
<div>450 K and a local minimum in <i>b</i> lattice parameters</div>
<div>around 400 K [8]. The lack of a clear description of</div>
<div>the nature or number of magnetic phase transitions in</div>
<div>AlMn₂B₂ led us to grow and systematically study single</div>
<div class="e">crystalline samples.</div>
</div>
<div class="t" style="left:82px;top:955px">
<div class="i">This paper reports the synthesis of bulk single crystals</div>
<div>via high-temperature solution growth and their charac-</div>
<div>terization via high and low temperature magnetization,</div>
<div>NMR, and electrical resistance measurements. We find</div>
<div>that AlMn₂B₂ is a metallic antiferromagnet with a tran-</div>
<div>sition temperature of <i>T</i>ₙ = 313 ± 2 K. In addition we</div>
<div>find that AlMn₂B₂ has features associated with pseudo-</div>
<div class="e">two-dimensional magnets.</div>
</div>
<div class="c" style="left:480px;top:517px">
<div>FIG. 1. (a)AlMn₂B₂ unit cell showing Mn₂B₂ slabs stacked</div>
<div>with Al layer (b) Concentrated NaOH etched AlMn₂B₂ single</div>
<div class="e">crystals</div>
</div>
<div class="h" style="left:666px;top:619px">EXPERIMENTAL DETAILS</div>
<div class="h" style="left:666px;top:658px;letter-spacing:0.3px">Crystal growth</div>
<div class="t" style="left:480px;top:699px">
<div class="i">Solution growth is a powerful tool even for compounds</div>
<div>with high melting elements like B [3, 9, 10]. The ma-</div>
<div>jor difficulty associated with solution growth is finding</div>
<div>an initial composition that allows for growth of the sin-</div>
<div>gle phase, desired compound. For example, CaKFe₄As₄</div>
<div>growth in single phase form presents an illustrative ex-</div>
<div>ample [11]. Fortunately, with the innovation of fritted</div>
<div>alumina crucibles sets [12] we can now reuse decanted</div>
<div>melt and essentially fractionate the melt, as described</div>
<div class="e">below.</div>
<div class="i">Al shot (Alfa Aesar 99.999%), B pieces (Alfa Aesar</div>
<div>99.5% metal basis) and Mn pieces (Alfa Aesar 99.9%</div>
<div>metal basis) after surface oxidation cleaning as described</div>
<div>elsewhere [13] were used for the crystal growth process.</div>
<div>We started with an Al rich composition, Al₆₈Mn₂₂B₁₀,</div>
<div>and arc-melted it at least 4 times under an Ar atmo-</div>
<div>sphere. The button was then cut with a metal cutter</div>
<div>and re-arcmelted if some not-reacted B pieces were found.</div>
<div>After the button appeared to be homogeneous, it was</div>
<div>packed in a fritted alumina crucible set [12] and sealed</div>
<div>under partial pressure of argon inside amorphous silica</div>
<div>jacket to form a growth ampoule. The growth ampoule</div>
</div>

<!-- PAGE 2 -->
<div class="pn" style="left:1774px">2</div>
<div class="c" style="left:1009px;top:91px">
<div>TABLE I. Crystal data and structure refinement for</div>
<div class="e">AlMn₂B₂.</div>
</div>
<div class="c" style="left:1009px;top:696px">
<div>TABLE II. Atomic coordinates and equivalent isotropic dis-</div>
<div>placement parameters (A²) for AlMn₂B₂. U(eq) is defined as</div>
<div class="e">one third of the trace of the orthogonalized Uᵢⱼ tensor.</div>
</div>
<div class="t" style="left:1009px;top:898px">
<div>was then heated to 1200 °C over 2 h and soaked there</div>
<div>for 10 h before spinning using a centrifuge. Due to high</div>
<div>melting point of B containing compounds, homogeneous</div>
<div>liquid was not formed at 1200 °C. Undissolved polycrys-</div>
<div>talline MnB and Al-Mn binary compounds were sepa-</div>
<div>rated at 1200 °C via centrifuging. The catch crucible col-</div>
<div>lected the homogeneous melt at 1200 °C was again sealed</div>
<div>in a fritted alumina crucible sets under Ar atmosphere to</div>
<div>form second growth ampoule. This second ampoule was</div>
<div>heated to 1200 °C over 2 h, held there for another 10 h</div>
<div>and cooled down to 1100 °C over 50 h and spun using</div>
</div>
<div class="c" style="left:1407px;top:564px">
<div>FIG. 2. (a) SEM image of AlMn₂B₂ single crystalline sample</div>
<div>along the planar view (with electron beam parallel to [010])</div>
<div>(b) SEM image of AlMn₂B₂ in a cross sectional view with</div>
<div class="e">electron beam parallel to [100].</div>
</div>
<div class="t" style="left:1407px;top:678px">
<div>centrifuge to separate the crystals. The second growth</div>
<div>attempt produced a mixture of the targeted AlMn₂B₂</div>
<div>phase along with MnB crystals. So as to avoid this MnB</div>
<div>contamination, the catch crucible of the second growth</div>
<div>was used for a third growth and sealed again under a</div>
<div>partial pressure of Ar. For this stage, to make sure there</div>
<div>are no other nucleated crystals, the third growth growth</div>
<div>was heated to 1200 °C over 2 h and soaked there for 2 h.</div>
<div>It was then cooled down to 1100 °C over 1 h and stayed</div>
<div>there for 1 h followed by slow cooling to 990 °C over</div>
<div>120 h and centrifuged to separate large, single phased</div>
<div>AlMn₂B₂ crystals as shown in Fig. 1(b). The flux on the</div>
<div class="e">surface was removed via concentrated NaOH etching.</div>
<div class="i">It should be noted that predominantly single phase</div>
<div>AlMn₂B₂ crystals were grown in single growth attempt</div>
<div>using initial Al₈₄Mn₈B₈ composition however the crystals</div>
<div class="e">were small, due to multiple nucleation sites.</div>
</div>
<div class="h" style="left:1593px;top:1021px">CRYSTAL STRUCTURE AND STOICHIOMETRY</div>
<div class="t" style="left:1407px;top:1061px">
<div class="i">As grown single crystals were characterized using a</div>
<div>scanning electron microscope (SEM), as well as both</div>
</div>

<!-- PAGE 3 -->
<div class="pn" style="left:2701px">3</div>
<div class="c" style="left:1936px;top:411px">
<div>FIG. 3. Single crystal crushed powder XRD pattern where</div>
<div><i>I</i> (Obs), <i>I</i>(Cal), <i>I</i>(Bkg) and <i>I</i>(Obs-Cal) are observed, cal-</div>
<div>culated, background and differential diffractrograms respec-</div>
<div class="e">tively.</div>
</div>
<div class="c" style="left:1936px;top:795px">
<div>FIG. 4. Crystallographic orientation characterization of</div>
<div>AlMn₂B₂ surfaces using monochromatic Cu Kα radiation in</div>
<div>Bragg Brentano diffraction geometry. The top curve shows</div>
<div>the family of [020] peaks identifying direction perpendicular</div>
<div>to plate as [010]. The direction along the thickness of the</div>
<div>plates is found to be [001] leaving the direction along the</div>
<div>length as [100]. The vertical grid line through the [110] pow-</div>
<div>der diffraction peak (not labeled in diagram) is a reference to</div>
<div class="e">identify [001] and [040] peaks observed for different facets.</div>
</div>
<div class="t" style="left:1936px;top:989px">
<div>powder and single crystal X-ray diffraction (XRD). Fig-</div>
<div>ures 2(a) and (b) show the planar and cross sectional</div>
<div>backscattered SEM images of AlMn₂B₂ single crystals</div>
<div>which show predominantly homogeneous compositions.</div>
<div>The small linear grooves are the cracked layers associ-</div>
<div>ated with the SEM sample polishing. Being a layered</div>
</div>
<div class="t" style="left:2334px;top:81px">
<div>material, it can be easily cleaved and deformed. Boron</div>
<div>is difficult to account for correctly in electron dispersive</div>
<div>spectroscopy(EDS), as a consequence of this we deter-</div>
<div>mined only the Mn:Al ratio for two different batches of</div>
<div>single crystalline samples. In first batch, 13 spots were</div>
<div>analyzed in EDS with Mn:Al ratio of 2.07 for all char-</div>
<div>acteristics X-ray emissions. Similarly, an 8 spot analy-</div>
<div>sis in the second batch provided the Mn:Al ratio to be</div>
<div>2.12 for characteristics <i>K</i>-lines for all elements. With</div>
<div>the <i>L</i>-characteristics-lines analysis, a ratio of 2.51 was</div>
<div>obtained for the second batch. Without the creation and</div>
<div>use of Mn-Al-B based standards, further characterization</div>
<div class="e">by EDS is difficult.</div>
<div class="i">Although the EDS results are qualitatively in agree-</div>
<div>ment with the AlMn₂B₂ structure, to more precisely de-</div>
<div>termine the composition and structure, multiple batches</div>
<div>of AlMn₂B₂ were investigated using single crystal XRD</div>
<div>technique. Single crystalline XRD data were collected</div>
<div>with the use of graphite monochromatized Mo Kα radia-</div>
<div>tion (λ=0.71073 Å) at room temperature on a Bruker</div>
<div>APEX2 diffractometer. Reflections were gathered by</div>
<div>taking five sets of 440 frames with 0.5° scans in ω/θ,</div>
<div>with an exposure time of 10 s per frame and the crystal-</div>
<div>to-detector distance of 6 cm. The structure solution and</div>
<div>refinement for single crystal data was carried out using</div>
<div>SHELXTL program package. Attempts to refine occu-</div>
<div>pancies of each site indicated full occupancy(&lt; 3σ). The</div>
<div>final stage of refinement was performed using anisotropic</div>
<div>displacement parameters for all the atoms. The refine-</div>
<div>ment metrics and atomic coordinates are presented in</div>
<div>TABLE I and II respectively. The single crystalline re-</div>
<div class="e">finement showed AlMn₂B₂ as a stoichiometric material.</div>
<div class="i">Etched single crystals were finely ground and spread</div>
<div>over a zero background silicon wafer sample holder with</div>
<div>help of a thin film of Dow Corning high vacuum grease.</div>
<div>Powder diffraction data were obtained using a Rigaku</div>
<div>Miniflex II diffractometer within a 2θ range of 10 - 100°</div>
<div>with a step of 0.02° and dwelling time of 3 seconds for</div>
<div>data acquisition. The crystallographic information file</div>
<div>from the single crystal XRD solution was used to fit the</div>
<div>powder XRD data using GSAS [14] and EXPGUI [15]</div>
<div>software packages. Figure 3 shows the Rietveld refined</div>
<div>powder XRD pattern with R factor of 0.08. Being a</div>
<div>relatively hard, layered material, texture is visible along</div>
<div>[020] direction although March Dollase texture correction</div>
<div class="e">was employed to account for this intensity mismatch.</div>
<div class="i">To identify the crystallographic orientation of the</div>
<div>AlMn₂B₂ single crystals, we employed the monochro-</div>
<div>matic X-ray diffraction from the crystallographic surfaces</div>
<div>in the Bragg-Brentano geometry [3, 16]. The direction</div>
<div>perpendicular to the plate was identified to be [010] since</div>
<div>a family of {020} lines were observed in the diffraction</div>
<div>pattern as shown in blue curve in Fig. 4. The plate was</div>
<div>held vertical and the family of {001} peaks were obtained</div>
<div>as shown in red curve of Fig. 4. The monochromatic x-</div>
<div>ray surface diffraction peaks were compared with powder</div>
</div>

<!-- PAGE 4 -->
<div class="pn" style="left:3628px">4</div>
<div class="t" style="left:2863px;top:81px">
<div>diffraction data to correctly identify their directions. A</div>
<div>vertical line through the powder [110] peak was used as</div>
<div>a reference point of comparison as shown in Fig. 4. Then</div>
<div>the last remaining direction was identified to be [100]</div>
<div>along the length of the crystals. A reference coordinate</div>
<div>system is shown in Fig. 1(b) to demonstrate the crystal-</div>
<div class="e">lographic orientations of AlMn₂B₂ crystals.</div>
</div>
<div class="c" style="left:2863px;top:482px">
<div>FIG. 5. Temperature dependent normalized resistance (left</div>
<div>axis) and temperature derivative (right axis) of AlMn₂B₂.</div>
<div>The resistance is metallic in nature. The temperature deriva-</div>
<div>tive shows an anomaly at 313 ± 2 K consistent with an AFM</div>
<div class="e">phase transition.</div>
</div>
<div class="c" style="left:2863px;top:887px">
<div>FIG. 6. Low temperature (2 - 350 K) <i>M/H</i> along various crys-</div>
<div>tallographic axes of AlMn₂B₂ sample as outlined in the graph.</div>
<div class="e">The inset shows d(M*T/H)/dT as a function of temperature.</div>
</div>
<div class="h" style="left:3049px;top:1004px">ELECTRIC AND MAGNETIC PROPERTIES</div>
<div class="t" style="left:2863px;top:1043px">
<div class="i">The temperature dependent electrical resistance of</div>
<div>AlMn₂B₂ was measured in a traditional 4 probe mea-</div>
<div>surement on a NaOH etched, rod like sample using an</div>
</div>
<div class="t" style="left:3261px;top:81px">
<div>external device control option to interface with a Linear</div>
<div>Research, Inc. ac (1 mA, 17 Hz) resistance bridge (LR</div>
<div>700). Thin platinum wires were attached to the sam-</div>
<div>ple using DuPont 4929N silver paint to make electrical</div>
<div>contact. Quantum Design Magnetic Property Measure-</div>
<div>ment System (MPMS) was used as a temperature con-</div>
<div>troller. The measured temperature dependent electrical</div>
<div>resistance of AlMn₂B₂ is shown in Fig. 5. These data fur-</div>
<div>ther confirm that our single crystals are essentially sto-</div>
<div>ichiometric AlMn₂B₂; given that the residual resistivity</div>
<div>ratio (R(350.0K)/R(2.0K)) is 28.5, there is relatively low disorder</div>
<div>scattering. In addition, a very clear feature is seen in</div>
<div>both R(T) and d(R(T))/dT at T = 313 ± 2 K. Such features</div>
<div>are often related to a loss of spin disorder scattering at a</div>
<div>magnetic transition [17]. As such, these data are our first</div>
<div>suggestion that AlMn₂B₂ may indeed have some form of</div>
<div class="e">magnetic order below 315 K.</div>
<div class="i">The magnetic properties of AlMn₂B₂ were studied</div>
<div>from a base temperature of 2 K to 700 K. Low tempera-</div>
<div>ture anisotropic magnetization data of single crystalline</div>
<div>AlMn₂B₂ samples were measured within the tempera-</div>
<div>ture range 2 - 350 K using a MPMS. High temperature,</div>
</div>
<div class="c" style="left:3261px;top:981px">
<div>FIG. 7. (a) High temperature susceptibility data along vari-</div>
<div>ous axes measured using VSM. There are shallow anomalies</div>
<div>present around 313 ± 2 K for each directions. (b) Corre-</div>
<div>sponding Curie Weiss plots identifying AlMn₂B₂ as an AFM</div>
<div>material with θ₀₁₀ = - 815 K, θ₁₀₀ = - 750 K, and θ₀₀₁ = -</div>
<div class="e">835 K respectively.</div>
</div>

<!-- PAGE 5 -->
<div class="pn" style="left:4555px">5</div>
<div class="t" style="left:3790px;top:81px">
<div>anisotropic temperature dependent magnetization data</div>
<div>were obtained using a Quantum Design VersaLab Vibrat-</div>
<div>ing Sample Magnetometer (VSM) over the temperature</div>
<div class="e">range 300 - 700 K in an oven option mode.</div>
<div class="i">The low temperature anisotropic susceptibility data,</div>
<div>with <i>H</i> = 3 T applied field, are presented in Fig. 6. Below</div>
<div>50 K, the magnetization data show a low temperature</div>
<div>upturn as reported in a previous literature [5]. In all three</div>
<div>directions, there is a clear anomaly in susceptibility data</div>
<div>around 312 K. The inset shows d(M*T/H)/dT as a function of</div>
<div>temperature [18] showing a clear anomaly around 312 K</div>
<div>identifying AlMn₂B₂ as a AFM material. The observed</div>
<div>anomaly in d(M*T/H)/dT coincides with the kink observed</div>
<div class="e">in dR/dT.</div>
<div class="i">Recently, AlMn₂B₂ was reported to be AFM however</div>
<div>Neel temperature was reported to be around 390 K [7].</div>
<div>To examine higher temperatures, our high temperature</div>
<div>susceptibility data, obtained using our VSM are pre-</div>
<div>sented in Fig. 7(a) and (b). Although a broad local</div>
<div>maximum of the susceptibility around 350 - 390 K for</div>
<div>different axes, consistent to reference[7] was found, the</div>
<div>d(M*T/H)/dT did not show any anomaly. The only clear and</div>
<div>conclusive feature in the high temperature data associ-</div>
<div>ated with a magnetic transition is the feature at 313 ±</div>
<div>2 K. The broad local maximum in magnetization well</div>
<div>above the transition temperature can be associated with</div>
<div>low dimensional, or linear chain anisotropic Heisenberg</div>
<div>anitiferromagnetism [19–23]. The fitted Curie Weiss tem-</div>
<div>peratures for various axes were obtained to be θ₀₁₀ = -</div>
</div>
<div class="c" style="left:3790px;top:948px">
<div>FIG. 8. Field dependent magnetization <i>M(H)</i> of AlMn₂B₂ at</div>
<div>2 K. The magnetization along [010] direction shows a satura-</div>
<div>tion magnetization of 0.02 μB/Mn with respect to other two</div>
<div>principle directions outlined with a linear fit of the high field</div>
<div>region data. The <i>M(H)</i> data along [010] direction shows no</div>
<div>magnetic hysteresis i.e. the almost overlapping 2 red curves</div>
<div>for increasing and decreasing field. The At higher field region,</div>
<div class="e">all 3 <i>M(H)</i> data have the same slopes.</div>
</div>
<div class="c" style="left:4188px;top:571px">
<div>FIG. 9. ¹¹B NMR spectrum measured at different tempera-</div>
<div class="e">tures from 315 to 457 K with H = 7.4089 T.</div>
</div>
<div class="t" style="left:4188px;top:651px">
<div>815 K, θ₁₀₀ = - 750 K, and θ₀₀₁ = - 835 K. From the</div>
<div>average slope of Curie Weiss plot, the effective moment</div>
<div class="e">of Mn is found to be ∼2.5μB/Mn.</div>
<div class="i">At low temperature, T ≤ 50 K, in Fig. 6 there is a</div>
<div>clear upturn in the <i>M/H</i> data, particularly for <i>H</i> along</div>
<div>the [010] direction. In order to better understand this we</div>
<div>measured the anisotropic field dependent magnetization</div>
<div>at 2 K as shown in Fig. 8. For fields greater than 4 T</div>
<div>the slopes of the <i>M(H)</i> plots are comparable for all three</div>
<div>directions. For <i>H</i> ∥ [010], there is a roughly 0.02 μB/Mn</div>
<div>offset due to a rapid increase and saturation for <i>H</i> ≤ 3</div>
<div>T. The origin of this small, anisotropic contribution is</div>
<div class="e">currently not known.</div>
</div>
<div class="h" style="left:4374px;top:930px">NUCLEAR MAGNETIC RESONANCE STUDY</div>
<div class="t" style="left:4188px;top:970px">
<div class="i">To further investigate the magnetism of AlMn₂B₂, we</div>
<div>carried out ¹¹B NMR measurements at various temper-</div>
<div>atures between 5 K and 457 K as presented in Figs. 9</div>
<div>- 11. To perform the NMR measurements for the tem-</div>
<div>perature region of <i>T</i> = 5 - 295 K, crushed single crys-</div>
<div>talline powder was enclosed in a weighing paper folded</div>
<div>closed cylindrical tube and inserted inside the NMR coil.</div>
</div>
</body></html>
